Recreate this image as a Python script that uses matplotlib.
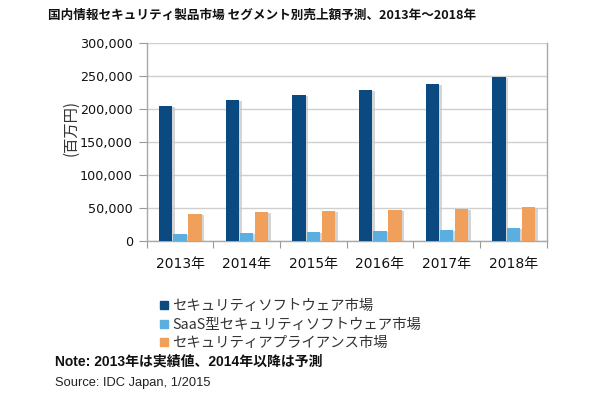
import matplotlib
matplotlib.use("Agg")
import matplotlib.pyplot as plt
from matplotlib.lines import Line2D
import matplotlib.transforms as mtransforms
import numpy as np

plt.rcParams['font.family'] = ['DejaVu Sans', 'Noto Sans CJK JP']

years = ["2013年", "2014年", "2015年", "2016年", "2017年", "2018年"]
software = [205200, 214300, 221000, 228600, 238100, 248300]
saas = [10200, 12200, 13700, 15200, 16300, 18800]
appliance = [41000, 43200, 45100, 46700, 48700, 51200]
series_names = ["セキュリティソフトウェア市場", "SaaS型セキュリティソフトウェア市場", "セキュリティアプライアンス市場"]
colors = ["#0b4a80", "#5aaee0", "#f0a05a"]
yticks = [0, 50000, 100000, 150000, 200000, 250000, 300000]

title = "国内情報セキュリティ製品市場 セグメント別売上額予測、2013年～2018年"
note = "Note: 2013年は実績値、2014年以降は予測"
source = "Source: IDC Japan, 1/2015"
ylabel = "(百万円)"

fig = plt.figure(figsize=(6.1, 4.0), dpi=100)
fig.patch.set_facecolor("white")
ax = fig.add_axes([146.7/610, 1-240.7/400, 400/610, 197.4/400])

x = np.arange(len(years))
w = 0.2
offs = [-0.215, 0.0, 0.225]
shadow = mtransforms.offset_copy(ax.transData, fig=fig, x=2.5, y=-1.0, units='dots')
for vals, off, c in zip([software, saas, appliance], offs, colors):
    ax.bar(x + off, vals, width=w, color="#c4c4c4", alpha=0.7, transform=shadow, zorder=2)
for vals, off, c, n in zip([software, saas, appliance], offs, colors, series_names):
    ax.bar(x + off, vals, width=w, color=c, zorder=3, label=n)

ax.set_xlim(-0.5, len(years) - 0.5)
ax.set_ylim(0, 300000)
ax.set_yticks(yticks)
ax.set_yticklabels([f"{v:,}" for v in yticks], fontsize=9.2, color="#111111")
ax.yaxis.grid(True, color="#cfcfcf", linewidth=1.0, zorder=0)
ax.set_axisbelow(True)

ax.set_xticks(np.arange(-0.5, len(years)), minor=False)
ax.set_xticklabels([""] * (len(years) + 1))
ax.set_xticks(x, minor=True)
ax.set_xticklabels(years, minor=True, fontsize=10, color="#111111")
ax.tick_params(axis='x', which='major', length=5, color="#999999", direction='out')
ax.tick_params(axis='x', which='minor', length=0, pad=12)
ax.tick_params(axis='y', length=6, color="#999999", pad=4)

for s in ["left", "bottom", "right"]:
    ax.spines[s].set_color("#a8a8a8")
    ax.spines[s].set_linewidth(1.0)
ax.spines["top"].set_visible(False)

fig.text(71/610, 1-128/400, ylabel, rotation=90, ha='center', va='center',
         fontsize=11, color="#333333", family=['Noto Sans CJK JP'])

fig.text(48/610, 1-15/400, title, ha='left', va='center', fontsize=9.1,
         fontweight='bold', color="#111111", family=['Noto Sans CJK JP'])

handles = [Line2D([0], [0], marker='s', linestyle='none', markersize=6,
                  markerfacecolor=c, markeredgecolor=c) for c in colors]
leg = fig.legend(handles, series_names, loc='upper left', bbox_to_anchor=(152/610, 1-292/400),
                 frameon=False, handlelength=0.6, handletextpad=0.3,
                 labelspacing=0.3, borderpad=0, prop={'family': ['Noto Sans CJK JP'], 'size': 10.4})
for t in leg.get_texts():
    t.set_color("#333333")

fig.text(55/610, 1-362/400, note, ha='left', va='center', fontsize=10,
         fontweight='bold', color="#111111", family=['Liberation Sans', 'Noto Sans CJK JP'])
fig.text(55/610, 1-383/400, source, ha='left', va='center', fontsize=9.3,
         color="#222222", family=['Liberation Sans'])

fig.savefig("out.png", dpi=100, facecolor="white")
